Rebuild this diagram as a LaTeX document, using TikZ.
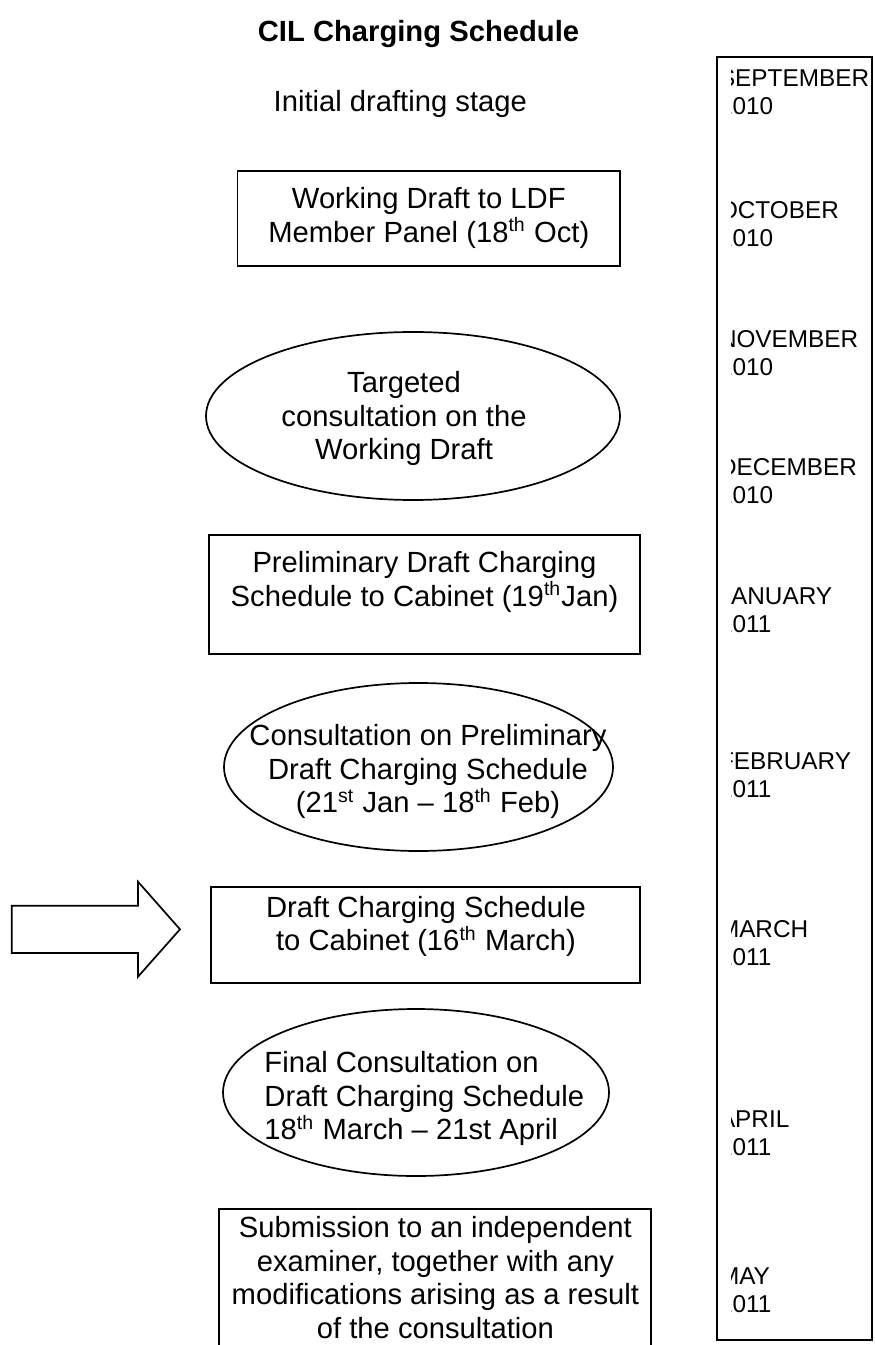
\documentclass[tikz,border=0pt]{standalone}
\usepackage{fontspec}
\setmainfont{Liberation Sans}
\usetikzlibrary{shapes.geometric}
\newdimen\pxu
\pxu=0.411pt
\newcommand{\stagefont}{\fontsize{12}{13.8}\selectfont}
\newcommand{\monthfont}{\fontsize{10}{11.5}\selectfont}
\tikzset{
  stagebox/.style={draw, rectangle, line width=0.7pt},
  phase/.style={draw, ellipse, line width=0.7pt},
  stagetext/.style={anchor=north, align=center, font=\stagefont},
  month/.style={anchor=north west, align=left, font=\monthfont},
}
\begin{document}
\begin{tikzpicture}[x=0.411pt, y=0.411pt]
\tikzstyle{every node}+=[inner sep=0pt]
\useasboundingbox (0,0) rectangle (874,-1345);
% heading
\node [font=\stagefont\bfseries, anchor=base] (title) at (418.5,-41.7) {CIL Charging Schedule};
\node [font=\stagefont, anchor=base] (initial) at (400.3,-111.7) {Initial drafting stage};
% stages down the page
\node [stagebox, minimum width=382.4\pxu, minimum height=95\pxu] (workingdraft) at (428.8,-218.5) {};
\node [stagetext] (workingdrafttext) at (428.8,-187) {Working Draft to LDF\\Member Panel (18\textsuperscript{th} Oct)};
\node [phase, minimum width=414\pxu, minimum height=168\pxu] (targeted) at (413,-416) {};
\node [stagetext] (targetedtext) at (404,-371) {Targeted\\consultation on the\\Working Draft};
\node [stagebox, minimum width=431\pxu, minimum height=119\pxu] (prelimdraft) at (424.5,-594.5) {};
\node [stagetext] (prelimdrafttext) at (424.5,-551) {Preliminary Draft Charging\\Schedule to Cabinet (19\textsuperscript{th}Jan)};
\node [phase, minimum width=389\pxu, minimum height=168\pxu] (prelimconsult) at (418.5,-767) {};
\node [stagetext] (prelimconsulttext) at (428,-724) {Consultation on Preliminary\\Draft Charging Schedule\\(21\textsuperscript{st} Jan -- 18\textsuperscript{th} Feb)};
\node [stagebox, minimum width=429\pxu, minimum height=96\pxu] (draftschedule) at (425.5,-935) {};
\node [stagetext] (draftscheduletext) at (426,-895.5) {Draft Charging Schedule\\to Cabinet (16\textsuperscript{th} March)};
\node [phase, minimum width=386\pxu, minimum height=167\pxu] (final) at (416,-1092.5) {};
\node [stagetext, anchor=north west, align=left] (finaltext) at (264,-1051) {Final Consultation on\\Draft Charging Schedule\\18\textsuperscript{th} March -- 21st April};
\node [stagebox, minimum width=432\pxu, minimum height=156\pxu] (submission) at (435,-1287) {};
\node [stagetext] (submissiontext) at (435.4,-1216) {Submission to an independent\\examiner, together with any\\modifications arising as a result\\of the consultation};
% arrow pointing at the March stage
\draw [line width=0.7pt] (11.7,-905.7) -- (138,-905.7) -- (138,-881.7) -- (180,-929.3)
  -- (138,-976.7) -- (138,-953) -- (11.7,-953) -- cycle;
% month column
\node [stagebox, minimum width=155\pxu, minimum height=1283\pxu] (timeline) at (794.5,-698.5) {};
\begin{scope}
\clip (731,-57) rectangle (872,-1340);
\node [month] (sep) at (718.5,-69.3) {SEPTEMBER\\2010};
\node [month] (oct) at (718.5,-200.6) {OCTOBER\\2010};
\node [month] (nov) at (718.5,-329.6) {NOVEMBER\\2010};
\node [month] (dec) at (718.5,-457.6) {DECEMBER\\2010};
\node [month] (jan) at (718.5,-587.6) {JANUARY\\2011};
\node [month] (feb) at (718.5,-752.6) {FEBRUARY\\2011};
\node [month] (mar) at (718.5,-919.6) {MARCH\\2011};
\node [month] (apr) at (718.5,-1110.6) {APRIL\\2011};
\node [month] (may) at (718.5,-1267.6) {MAY\\2011};
\end{scope}
\end{tikzpicture}
\end{document}
